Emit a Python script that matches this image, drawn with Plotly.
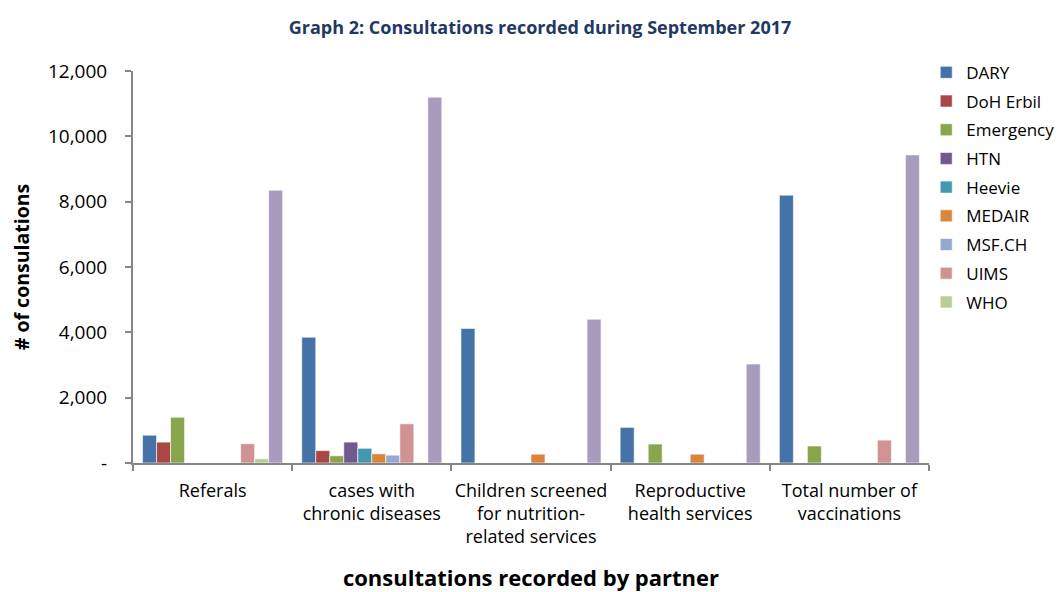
import plotly.graph_objects as go

categories = ["Referals", "cases with<br>chronic diseases", "Children screened<br>for nutrition-<br>related services",
              "Reproductive<br>health services", "Total number of<br>vaccinations"]

partners = ["DARY", "DoH Erbil", "Emergency", "HTN", "Heevie", "MEDAIR", "MSF.CH", "UIMS", "WHO", "Other"]
dary      = [850, 3850, 4120, 1090, 8200]
doh_erbil = [640, 380, 0, 0, 0]
emergency = [1400, 220, 0, 580, 520]
htn       = [0, 640, 0, 0, 0]
heevie    = [0, 450, 0, 0, 0]
medair    = [0, 280, 270, 270, 0]
msf_ch    = [0, 240, 0, 0, 0]
uims      = [590, 1200, 0, 0, 700]
who       = [130, 20, 0, 0, 0]
other     = [8350, 11200, 4400, 3030, 9430]
series = [dary, doh_erbil, emergency, htn, heevie, medair, msf_ch, uims, who, other]
colors = ["#4572A7", "#AA4643", "#89A54E", "#71588F", "#4198AF", "#DB843D", "#93A9CF", "#D19392", "#B9CD96", "#A99BBD"]

yticks = [0, 2000, 4000, 6000, 8000, 10000, 12000]
yticktext = ["-", "2,000", "4,000", "6,000", "8,000", "10,000", "12,000"]

FONT = "Open Sans"
fig = go.Figure()
for name, vals, col in zip(partners, series, colors):
    fig.add_trace(go.Bar(
        x=categories, y=vals, name=name, marker_color=col,
        marker_line_color="white", marker_line_width=0.6,
        showlegend=(name != "Other"), legendgroup=name,
    ))

fig.update_layout(
    width=1064, height=592,
    paper_bgcolor="white", plot_bgcolor="white",
    margin=dict(l=125, r=143, t=63, b=137, autoexpand=False),
    barmode="group", bargap=0.12, bargroupgap=0,
    font=dict(family=FONT, size=18, color="#000000"),
    title=dict(text="<b>Graph 2: Consultations recorded during September 2017</b>",
               x=0.5, xanchor="center", y=0.966, yanchor="middle",
               font=dict(family=FONT, size=18, color="#1F3864")),
    legend=dict(xref="container", yref="container", x=0.863, xanchor="left", y=0.921, yanchor="top",
                font=dict(family=FONT, size=17), tracegroupgap=3.6,
                bgcolor="rgba(0,0,0,0)", itemwidth=30),
)
fig.update_xaxes(
    showline=True, linecolor="#868686", linewidth=2,
    ticks="outside", tickson="boundaries", ticklen=6, tickcolor="#868686", tickwidth=2,
    tickangle=0, ticklabelstandoff=10,
    tickfont=dict(family=FONT, size=18),
    title=dict(text="<b>consultations recorded by partner</b>", font=dict(family=FONT, size=22), standoff=23),
)
fig.update_yaxes(
    range=[0, 12000], tickvals=yticks, ticktext=yticktext,
    showline=True, linecolor="#868686", linewidth=2, showgrid=False, zeroline=False,
    ticks="outside", ticklen=6, tickcolor="#868686", tickwidth=2,
    ticklabelstandoff=14,
    tickfont=dict(family=FONT, size=19),
    title=dict(text="<b># of consulations</b>", font=dict(family=FONT, size=19.5), standoff=14),
)

fig.write_html("out.html")
